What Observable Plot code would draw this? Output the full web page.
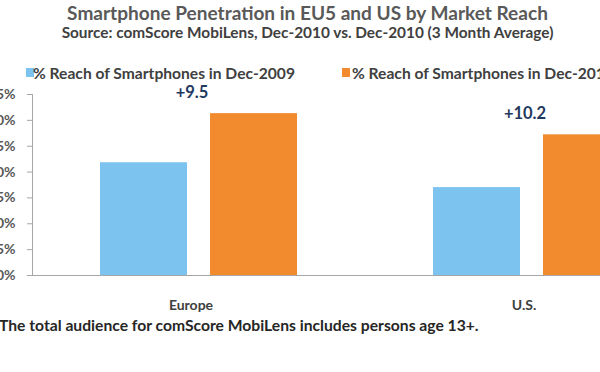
<!DOCTYPE html>
<html>
<head>
<meta charset="utf-8">
<script src="https://cdn.jsdelivr.net/npm/d3@7"></script>
<script src="https://cdn.jsdelivr.net/npm/@observablehq/plot@0.6"></script>
<style>
  html, body { margin: 0; padding: 0; background: #fff; overflow: hidden; }
  #wrap { position: relative; width: 600px; height: 372px; overflow: hidden; font-family: Lato, "Open Sans", sans-serif; font-weight: 700; }
  .t { position: absolute; white-space: nowrap; line-height: 1; }
  #title { color: #595959; }
  #subtitle { color: #404040; }
  .leg { position: absolute; white-space: nowrap; color: #404040; line-height: 1; }
  .sw { position: absolute; width: 8px; height: 9px; }
  #foot { color: #262626; }
  #chart { position: absolute; left: 0; top: 0; }
  #chart g[aria-label="y-axis tick label"] { fill: #595959; font-size: 14px; font-weight: 700; }
</style>
</head>
<body>
<div id="wrap">
  <div id="chart"></div>
  <div class="t" id="title"></div>
  <div class="t" id="subtitle"></div>
  <div class="sw" id="sw0"></div><div class="leg" id="leg0"></div>
  <div class="sw" id="sw1"></div><div class="leg" id="leg1"></div>
  <div class="t" id="foot"></div>
</div>
<script>
const titleText = "Smartphone Penetration in EU5 and US by Market Reach";
const subtitleText = "Source: comScore MobiLens, Dec-2010 vs. Dec-2010 (3 Month Average)";
const footText = "The total audience for comScore MobiLens includes persons age 13+.";
const categories = ["Europe", "U.S."];
const series = ["% Reach of Smartphones in Dec-2009", "% Reach of Smartphones in Dec-2010"];
const reach2009 = [21.8, 17.0];
const reach2010 = [31.3, 27.2];
const changeLabels = ["+9.5", "+10.2"];
const yTicks = [0, 5, 10, 15, 20, 25, 30, 35];
const colors = ["#7dc3f0", "#f18b2e"];

const rows = categories.flatMap((c, i) => [
  {category: c, series: series[0], value: reach2009[i]},
  {category: c, series: series[1], value: reach2010[i]}
]);
const changes = categories.map((c, i) => ({category: c, value: reach2010[i], label: changeLabels[i]}));

const chart = Plot.plot({
  width: 700,
  height: 372,
  marginLeft: 32,
  marginRight: 2,
  marginTop: 94,
  marginBottom: 97,
  style: {maxWidth: "none", fontFamily: "Lato, 'Open Sans', sans-serif", color: "#a6a6a6", background: "transparent"},
  fx: {domain: categories, padding: 0, axis: null},
  x: {domain: series, paddingInner: 0.207, paddingOuter: 0.604, axis: null},
  y: {domain: [0, 35], ticks: yTicks, tickFormat: d => d + "%", tickSize: 5, tickPadding: 12, line: true, label: null},
  color: {domain: series, range: colors},
  marks: [
    Plot.barY(rows, {fx: "category", x: "series", y: "value", fill: "series"}),
    Plot.ruleY([0], {stroke: "#a6a6a6"}),
    Plot.text(changes, {fx: "category", y: "value", text: "label", dx: -7, dy: -21, fontSize: 16.5, fontWeight: 700, fill: "#1f3a5f"}),
    Plot.text(categories, {fx: d => d, text: d => d, frameAnchor: "bottom", dx: -8, dy: 34, fontSize: 14, fontWeight: 700, fill: "#404040"})
  ]
});
document.getElementById("chart").appendChild(chart);

function place(id, text, left, top, size, targetWidth, center) {
  const el = document.getElementById(id);
  el.textContent = text;
  el.style.fontSize = size + "px";
  if (targetWidth) {
    const w = el.getBoundingClientRect().width;
    el.style.fontSize = (size * targetWidth / w) + "px";
  }
  const w2 = el.getBoundingClientRect().width;
  el.style.left = (center ? left - w2 / 2 : left) + "px";
  el.style.top = top + "px";
}
place("title", titleText, 307.5, 3, 18, 481, true);
place("subtitle", subtitleText, 307.5, 25, 14, 492, true);
place("leg0", series[0], 33, 66, 15, 262, false);
place("leg1", series[1], 352, 66, 15, 262, false);
place("foot", footText, -1, 318, 14, 480, false);
const s0 = document.getElementById("sw0"); s0.style.left = "26px"; s0.style.top = "68px"; s0.style.background = colors[0];
const s1 = document.getElementById("sw1"); s1.style.left = "342px"; s1.style.top = "68px"; s1.style.background = colors[1];
</script>
</body>
</html>
